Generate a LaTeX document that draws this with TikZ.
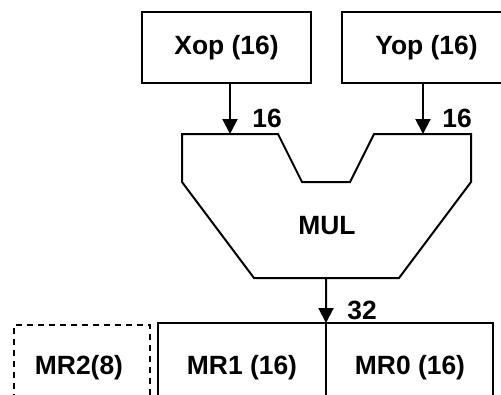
\documentclass[tikz,border=0pt]{standalone}
\usepackage{fontspec}
\setmainfont{Liberation Sans}
\usetikzlibrary{arrows.meta}
\begin{document}
\begin{tikzpicture}[x=1bp,y=-1bp,
  line width=2bp,
  lbl/.style={font=\fontsize{26.5}{30}\selectfont\bfseries, inner sep=0pt},
  regbox/.style={draw, rectangle, inner sep=0pt, outer sep=0pt, anchor=north west},
  bus/.style={-{Triangle[length=15bp,width=15bp]}}]
\useasboundingbox (0,0) rectangle (501,394);
\clip (0,0) rectangle (501,394);

% operand registers
\node[regbox, minimum width=169bp, minimum height=71bp] (xop) at (142,12) {};
\node[lbl] at (xop.center) {Xop (16)};
\node[regbox, minimum width=170bp, minimum height=71bp] (yop) at (342,12) {};
\node[lbl] at (426.5,47.5) {Yop (16)};

% multiplier outline
\coordinate (mulxin) at (230,134);
\coordinate (mulyin) at (423,134);
\coordinate (mulout) at (326,278);
\draw (182,134) -- (278,134) -- (302,182) -- (350,182) -- (374,134) -- (471,134)
  -- (471,182) -- (399,278) -- (254,278) -- (182,182) -- cycle;
\node[lbl] (mul) at (327,226) {MUL};

% product registers
\node[regbox, minimum width=168bp, minimum height=110bp] (mr1) at (158,323) {};
\node[regbox, minimum width=167bp, minimum height=110bp] (mr0) at (326,323) {};
\node[regbox, dashed, dash pattern=on 6bp off 5bp, minimum width=136bp, minimum height=110bp] (mr2) at (14,325) {};
\node[lbl] at (79,368) {MR2(8)};
\node[lbl] at (242,368) {MR1 (16)};
\node[lbl] at (410,368) {MR0 (16)};

% buses
\draw[bus] (xop.south -| mulxin) -- (mulxin);
\draw[bus] (yop.south -| mulyin) -- (mulyin);
\draw[bus] (mulout) -- (mr1.north east);
\node[lbl] at (267,118) {16};
\node[lbl] at (457,118) {16};
\node[lbl] at (362,310) {32};
\end{tikzpicture}
\end{document}
